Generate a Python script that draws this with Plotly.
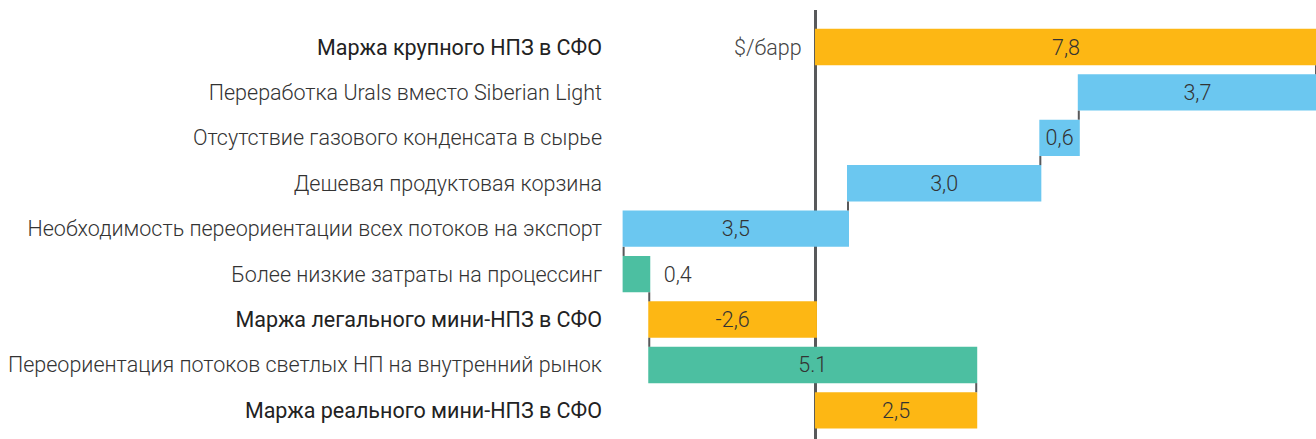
import plotly.graph_objects as go

labels = [
    "Маржа крупного НПЗ в СФО",
    "Переработка Urals вместо Siberian Light",
    "Отсутствие газового конденсата в сырье",
    "Дешевая продуктовая корзина",
    "Необходимость переориентации всех потоков на экспорт",
    "Более низкие затраты на процессинг",
    "Маржа легального мини-НПЗ в СФО",
    "Переориентация потоков светлых НП на внутренний рынок",
    "Маржа реального мини-НПЗ в СФО",
]
values = [7.8, -3.7, -0.6, -3.0, -3.5, 0.4, -2.6, 5.1, 2.5]
measures = ["absolute", "relative", "relative", "relative", "relative",
            "relative", "total", "relative", "total"]
value_text = ["7,8", "3,7", "0,6", "3,0", "3,5", "0,4", "-2,6", "5.1", "2,5"]
is_margin = [True, False, False, False, False, False, True, False, True]
unit = "$/барр"

positions = list(range(len(labels)))
ticktext = [
    (f'<span style="font-weight:400;fill:#222">{t}</span>' if m
     else f'<span style="font-weight:300;fill:#333">{t}</span>')
    for t, m in zip(labels, is_margin)
]
textpos = ["outside" if abs(v) < 0.5 and m == "relative" else "inside"
           for v, m in zip(values, measures)]
txt = [("  " + t) if p == "outside" else t for t, p in zip(value_text, textpos)]

FS = 21.5

fig = go.Figure(go.Waterfall(
    orientation="h",
    x=values,
    y=positions,
    measure=measures,
    text=txt,
    textposition=textpos,
    textfont=dict(family="Roboto", size=FS, color="#333", weight=300),
    insidetextanchor="middle",
    constraintext="none",
    increasing=dict(marker=dict(color="#4CBFA1")),
    decreasing=dict(marker=dict(color="#6BC7F0")),
    totals=dict(marker=dict(color="#FDB714")),
    connector=dict(line=dict(color="#58595b", width=2)),
    hoverinfo="skip",
))

fig.add_annotation(
    x=0, y=0, xref="x", yref="y", text=unit, showarrow=False,
    xanchor="right", xshift=-12,
    font=dict(family="Roboto", size=FS, color="#444", weight=300),
)

fig.update_layout(
    width=1316, height=439,
    template="none",
    paper_bgcolor="white", plot_bgcolor="white",
    margin=dict(l=614, r=0, t=10, b=0),
    bargap=0.16,
    showlegend=False,
    font=dict(family="Roboto"),
)
fig.update_xaxes(
    range=[-3.15, 7.8], showgrid=False, showticklabels=False, ticks="",
    zeroline=True, zerolinecolor="#58595b", zerolinewidth=3,
    showline=False, automargin=False, fixedrange=True,
)
fig.update_yaxes(
    range=[8.63, -0.815], tickvals=positions, ticktext=ticktext,
    showgrid=False, zeroline=False, showline=False, ticks="",
    tickfont=dict(family="Roboto", size=FS, color="#333"),
    ticklabelstandoff=11, automargin=False, fixedrange=True,
)

fig.write_html(
    "out.html",
    config={"displayModeBar": False},
    post_script="document.body.style.margin='0';document.body.style.overflow='hidden';",
)
